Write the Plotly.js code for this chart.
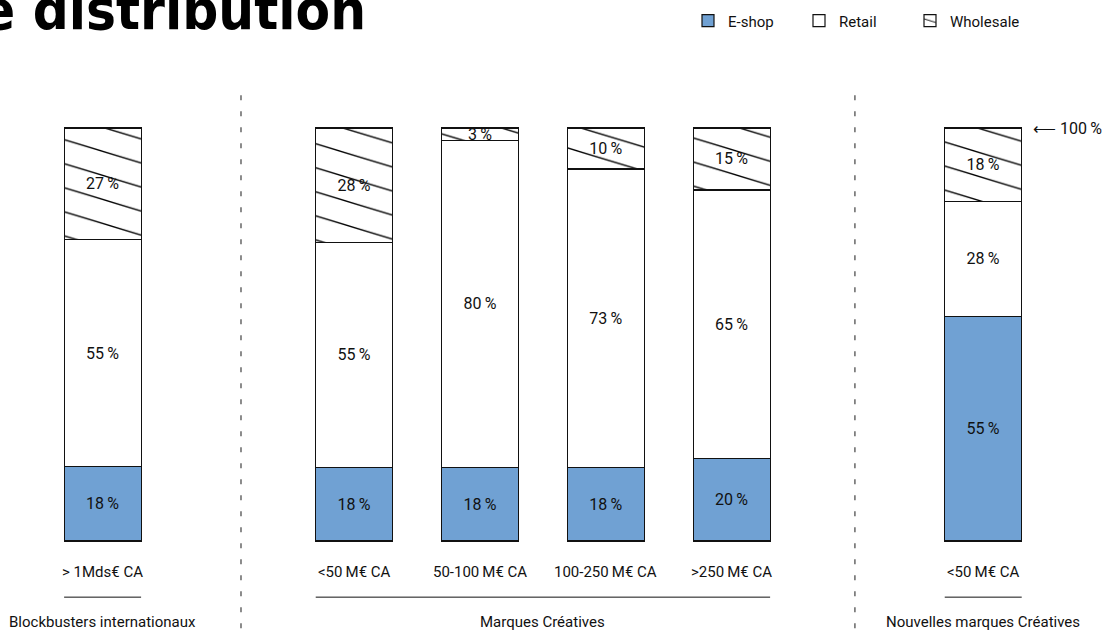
<!DOCTYPE html>
<html>
<head>
<meta charset="utf-8">
<script src="https://cdn.plot.ly/plotly-3.0.1.min.js"></script>
<style>html,body{margin:0;padding:0;background:#fff;}#chart{width:1103px;height:633px;}</style>
</head>
<body>
<div id="chart"></div>
<script>
// ---- data ----
const positions = [0, 2, 3, 4, 5, 7];
const categories = ['> 1Mds€ CA', '<50\u2009M€ CA', '50-100\u2009M€ CA', '100-250\u2009M€ CA', '>250\u2009M€ CA', '<50\u2009M€ CA'];
const eshop = [18, 18, 18, 18, 20, 55];
const retail = [55, 55, 80, 73, 65, 28];
const wholesale = [27, 28, 3, 10, 15, 18];
const groupNames = ['Blockbusters internationaux', 'Marques Créatives', 'Nouvelles marques Créatives'];
const groupMembers = [[0], [1, 2, 3, 4], [5]];
const seriesNames = ['E-shop', 'Retail', 'Wholesale'];
const titleText = 'e distribution';

// ---- style ----
const BW = 0.612;
const FONT = 'Roboto, "Open Sans", sans-serif';
const pct = v => v + '\u2009%';
const dividerX = [1.1, 5.98];

function barTrace(name, vals, color, pattern) {
  const t = {
    type: 'bar', name: name, x: positions, y: vals, width: BW,
    text: vals.map(pct), textposition: 'inside', insidetextanchor: 'middle',
    constraintext: 'none', cliponaxis: false,
    insidetextfont: {family: FONT, size: 16, color: '#111'},
    marker: {color: color, line: {color: '#111', width: 1.2}},
    hoverinfo: 'name+text'
  };
  if (pattern) t.marker.pattern = pattern;
  return t;
}

const traces = [
  barTrace(seriesNames[0], eshop, '#70a1d3'),
  barTrace(seriesNames[1], retail, '#ffffff'),
  barTrace(seriesNames[2], wholesale, '#ffffff', {shape: '\\', size: 17, solidity: 0.06, fgcolor: '#000', bgcolor: '#ffffff'})
];

const annotations = [];
const shapes = [];
positions.forEach((p, i) => {
  annotations.push({x: p, y: -7.4, xref: 'x', yref: 'y', text: categories[i], showarrow: false,
    font: {family: FONT, size: 15, color: '#111'}});
});
groupMembers.forEach((m, g) => {
  const x0 = positions[m[0]] - BW / 2, x1 = positions[m[m.length - 1]] + BW / 2;
  shapes.push({type: 'line', xref: 'x', yref: 'y', x0: x0, x1: x1, y0: -13.6, y1: -13.6, line: {color: '#111', width: 1}});
  annotations.push({x: (x0 + x1) / 2, y: -19.7, xref: 'x', yref: 'y', text: groupNames[g], showarrow: false,
    font: {family: FONT, size: 15, color: '#111'}});
});
dividerX.forEach(x => {
  shapes.push({type: 'line', xref: 'x', yref: 'y', x0: x, x1: x, y0: -25, y1: 110, line: {color: '#666', width: 1.5, dash: '5px,11px'}});
});
annotations.push({x: positions[5] + BW / 2 + 0.07, y: 100, xref: 'x', yref: 'y', xanchor: 'left', text: '⟵ 100\u2009%', showarrow: false,
  font: {family: FONT, size: 16, color: '#111'}});
annotations.push({x: 368 / 1103, y: 0.93, xref: 'paper', yref: 'paper', xanchor: 'right', yanchor: 'bottom', text: '<b>' + titleText + '</b>', showarrow: false,
  font: {family: '"DejaVu Sans Condensed", "DejaVu Sans", sans-serif', size: 56, color: '#000'}});

const layout = {
  width: 1103, height: 633,
  margin: {l: 0, r: 0, t: 0, b: 0, autoexpand: false},
  paper_bgcolor: '#fff', plot_bgcolor: '#fff',
  barmode: 'stack', barnorm: 'percent',
  showlegend: true,
  legend: {orientation: 'h', x: 688 / 1103, xanchor: 'left', y: 0.993, yanchor: 'top', traceorder: 'normal',
    entrywidth: 66, entrywidthmode: 'pixels', font: {family: FONT, size: 15, color: '#111'}, bgcolor: 'rgba(0,0,0,0)'},
  xaxis: {range: [-0.8156, 7.952], visible: false, fixedrange: true},
  yaxis: {range: [-22.28, 131.0], visible: false, fixedrange: true},
  annotations: annotations,
  shapes: shapes
};

Plotly.newPlot('chart', traces, layout, {displayModeBar: false, staticPlot: true}).then(() => {
  document.querySelectorAll('pattern').forEach(p => p.setAttribute('patternTransform', 'scale(3.3,1)'));
});
</script>
</body>
</html>
